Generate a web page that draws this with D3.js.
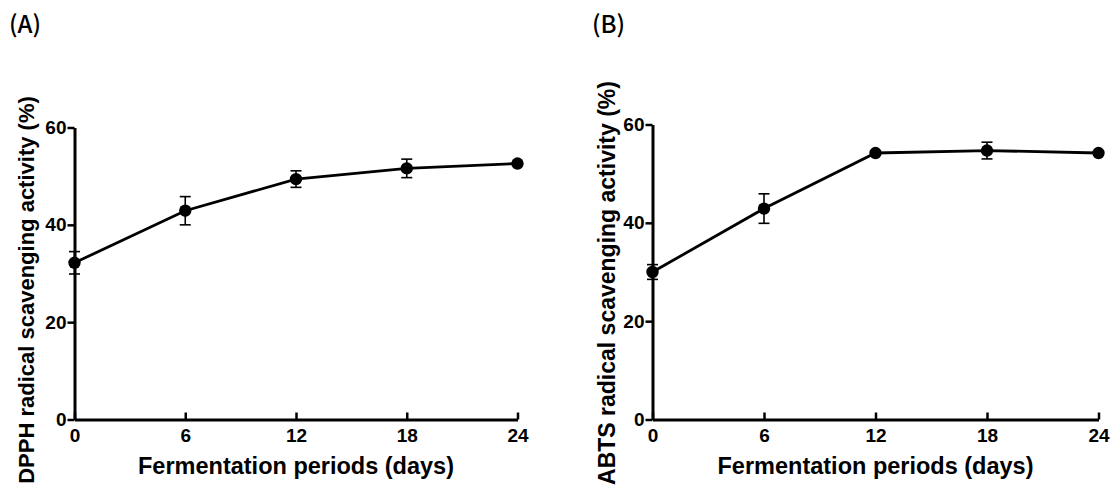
<!DOCTYPE html>
<html>
<head>
<meta charset="utf-8">
<script src="https://cdn.jsdelivr.net/npm/d3@7"></script>
<style>
  html, body { margin: 0; padding: 0; background: #fff; }
  svg { display: block; }
  .tick text { font-family: "Liberation Sans", Arial, sans-serif; font-weight: bold; font-size: 19px; fill: #000; }
  .title { font-family: "Liberation Sans", Arial, sans-serif; font-weight: bold; font-size: 23.5px; fill: #000; }
  .ytitle { font-family: "Liberation Sans", Arial, sans-serif; font-weight: bold; fill: #000; }
  .plabel { font-family: "Noto Sans CJK KR", "Noto Sans", sans-serif; font-weight: 500; font-size: 24px; fill: #000; }
</style>
</head>
<body>
<svg id="chart" width="1115" height="485"></svg>
<script>
// ---- data ----
const days = [0, 6, 12, 18, 24];
const xTicks = [0, 6, 12, 18, 24];
const yTicks = [0, 20, 40, 60];
const dpphMean = [32.2, 42.9, 49.4, 51.6, 52.6];
const dpphErr  = [2.3, 2.9, 1.7, 1.9, 0.4];
const abtsMean = [30.0, 42.9, 54.2, 54.7, 54.2];
const abtsErr  = [1.5, 3.0, 0.4, 1.7, 0.4];
const panelLabels = ["(A)", "(B)"];
const yTitles = ["DPPH radical scavenging activity (%)", "ABTS radical scavenging activity (%)"];
const xTitle = "Fermentation periods (days)";

const svg = d3.select("#chart");

const panels = [
  { mean: dpphMean, err: dpphErr, label: panelLabels[0], yTitle: yTitles[0],
    x0: 74.5, x1: 517.5, y0: 419.5, y1: 127.5, labelX: 9, yTitleX: 34, yTitleCY: 290, yTitleSize: 22, xTitleY: 474 },
  { mean: abtsMean, err: abtsErr, label: panelLabels[1], yTitle: yTitles[1],
    x0: 652.5, x1: 1098.5, y0: 419.5, y1: 124.5, labelX: 592, yTitleX: 615, yTitleCY: 283, yTitleSize: 23, xTitleY: 474 }
];

panels.forEach(p => {
  const x = d3.scaleLinear().domain([0, 24]).range([p.x0, p.x1]);
  const y = d3.scaleLinear().domain([0, 60]).range([p.y0, p.y1]);
  const g = svg.append("g");

  // axes
  const yAxis = d3.axisLeft(y).tickValues(yTicks).tickSizeInner(7).tickSizeOuter(0).tickPadding(1);
  const xAxis = d3.axisBottom(x).tickValues(xTicks).tickSizeInner(-7).tickSizeOuter(0).tickPadding(9);

  const ya = g.append("g").attr("transform", `translate(${p.x0},0)`).call(yAxis);
  const xa = g.append("g").attr("transform", `translate(0,${p.y0})`).call(xAxis);
  [ya, xa].forEach(a => {
    a.select(".domain").attr("stroke", "#000").attr("stroke-width", 3);
    a.selectAll(".tick line").attr("stroke", "#000").attr("stroke-width", 2.5);
  });

  // error bars
  const eb = g.append("g");
  days.forEach((d, i) => {
    const cx = x(d), lo = y(p.mean[i] - p.err[i]), hi = y(p.mean[i] + p.err[i]);
    eb.append("line").attr("x1", cx).attr("x2", cx).attr("y1", lo).attr("y2", hi)
      .attr("stroke", "#000").attr("stroke-width", 1.6);
    [lo, hi].forEach(yy => eb.append("line").attr("x1", cx - 5.5).attr("x2", cx + 5.5)
      .attr("y1", yy).attr("y2", yy).attr("stroke", "#000").attr("stroke-width", 1.6));
  });

  // line
  const line = d3.line().x((d, i) => x(days[i])).y(d => y(d));
  g.append("path").datum(p.mean).attr("d", line)
    .attr("fill", "none").attr("stroke", "#000").attr("stroke-width", 2.8);

  // markers
  g.selectAll("circle.m").data(p.mean).enter().append("circle")
    .attr("cx", (d, i) => x(days[i])).attr("cy", d => y(d)).attr("r", 6.2).attr("fill", "#000");

  // titles
  g.append("text").attr("class", "title").attr("x", (p.x0 + p.x1) / 2).attr("y", p.xTitleY)
    .attr("text-anchor", "middle").text(xTitle);
  g.append("text").attr("class", "ytitle").attr("text-anchor", "middle")
    .style("font-size", p.yTitleSize + "px")
    .attr("transform", `translate(${p.yTitleX},${p.yTitleCY}) rotate(-90)`).text(p.yTitle);
  g.append("text").attr("class", "plabel").attr("x", p.labelX).attr("y", 33).text(p.label);
});
</script>
</body>
</html>
